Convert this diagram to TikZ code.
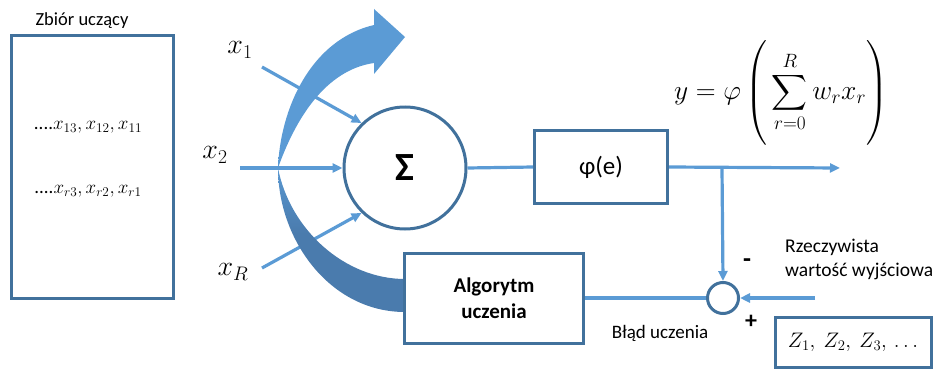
\RequirePackage{fix-cm}
\documentclass[tikz,border=0pt]{standalone}
\usepackage{amsmath}
\usepackage{fontspec}
\setmainfont{Carlito}
\usetikzlibrary{arrows.meta}

\definecolor{linkblue}{HTML}{5B9BD5}
\definecolor{frameblue}{HTML}{41719C}
\definecolor{arrowlight}{HTML}{5B9BD5}
\definecolor{arrowdark}{HTML}{4A7BAD}

% light blue on top, darker blue below the middle
\pgfdeclareverticalshading{bendshade}{100bp}{%
  color(0bp)=(arrowdark); color(38bp)=(arrowdark);
  color(50bp)=(arrowlight); color(100bp)=(arrowlight)}

\newcommand{\fs}[1]{\fontsize{#1}{#1}\selectfont}

\begin{document}
\begin{tikzpicture}[x=1pt,y=-1pt,
  link/.style={draw=linkblue,line width=3.2pt},
  feed/.style={link,-{Triangle[length=10pt,width=9pt]}},
  frame/.style={draw=frameblue,line width=3pt,fill=white,inner sep=0pt},
  lbl/.style={inner sep=0pt,text=black}]
\useasboundingbox (0,0) rectangle (934,369);

% training set
\node[lbl,font=\fs{18.5}] (settitle) at (82,21) {Zbiór uczący};
\node[frame,minimum width=162pt,minimum height=262pt] (set) at (92,167) {};
\node[lbl,font=\fs{19}] (row1) at (88,127) {....$x_{13}, x_{12}, x_{11}$};
\node[lbl,font=\fs{19}] (row2) at (88,191) {....$x_{r3}, x_{r2}, x_{r1}$};

% summing node and its inputs
\node[circle,frame,minimum size=122pt] (sum) at (405,168) {\fs{40}\bfseries Σ};

\node[lbl,font=\fs{28}] (lx1) at (240,50) {$x_1$};
\node[lbl,font=\fs{28}] (lx2) at (215,155) {$x_2$};
\node[lbl,font=\fs{28}] (lxR) at (233,272) {$x_R$};
\coordinate (in1) at (262,67);
\coordinate (in2) at (240,168);
\coordinate (inR) at (262,268);
\draw[feed] (in1) -- (sum.134);
\draw[feed] (in2) -- (sum.west);
\draw[feed] (inR) -- (sum.226);

% curved feedback arrow from the learning algorithm
\shade[shading=bendshade]
  (405,279) .. controls (345,279) and (290,230) .. (278,168)
  .. controls (295,120) and (325,70) .. (374,63)
  -- (374,74) -- (405,37) -- (374,9) -- (374,25)
  .. controls (310,40) and (280,110) .. (278,168)
  .. controls (278,240) and (330,312) .. (405,312) -- cycle;

% activation
\node[frame,minimum width=133pt,minimum height=73pt,font=\fs{25}] (phi) at (601,167) {φ(e)};
\draw[link] (sum.east) -- (phi.west);
\coordinate (split) at (722,168);
\coordinate (yout) at (840,168);
\draw[feed] (phi.east) -- (yout);

\node[lbl,font=\fs{27.5}] (formula) at (781,93)
  {$\displaystyle y=\varphi\left(\rule[-46pt]{0pt}{96pt}\sum_{r=0}^{R} w_r x_r\right)$};

% error junction
\node[circle,draw=frameblue,line width=3pt,minimum size=31pt,inner sep=0pt] (junc) at (723,298) {};
\draw[feed] (split) -- (junc.north);
\coordinate (zin) at (815,298);
\draw[feed] (zin) -- (junc.east);

\node[lbl,font=\fs{26}\bfseries] (minus) at (747,263) {-};
\node[lbl,font=\fs{24}\bfseries] (plus) at (751,322) {+};

% learning algorithm
\node[frame,minimum width=179pt,minimum height=90pt,align=center,font=\fs{21}\bfseries] (algo) at (494,298)
  {Algorytm\\[5pt]uczenia};
\draw[link] (algo.east) -- (junc.west);

\node[lbl,font=\fs{19}] (err) at (660,333) {Błąd uczenia};
\node[lbl,font=\fs{19.5},align=left,anchor=north west] (target) at (785,239)
  {Rzeczywista\\[4pt]wartość wyjściowa};

% desired outputs
\node[frame,minimum width=156pt,minimum height=50pt,font=\fs{21}] (zbox) at (853,342)
  {$Z_1,\ Z_2,\ Z_3,\,\ldots$};
\end{tikzpicture}
\end{document}
